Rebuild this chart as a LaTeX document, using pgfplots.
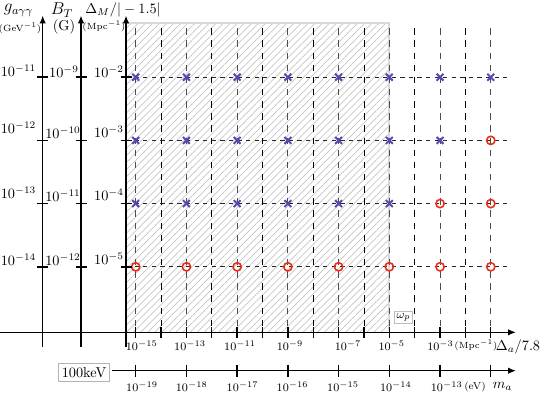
\documentclass[border=0pt]{standalone}
\usepackage{pgfplots}
\pgfplotsset{compat=1.18}
\usetikzlibrary{patterns.meta,arrows.meta}
\definecolor{xblue}{RGB}{85,75,175}
\definecolor{ored}{RGB}{235,45,25}
\newcommand{\unitsize}{\fontsize{6.3}{7}\selectfont}
\begin{document}
\begin{tikzpicture}
\useasboundingbox (0,0) rectangle (381.5pt,-276.5pt);
\begin{axis}[at={(0,0)}, anchor=north west, scale only axis,
    width=381.5pt, height=276.5pt, hide axis, clip=false,
    xmin=-20.351, xmax=1.139, ymin=-7.0285, ymax=-0.7785]
  % region below the plasma frequency
  \fill[pattern={Lines[angle=45,distance=3.5pt,line width=0.5pt]}, pattern color=gray!45]
    (axis cs:-15.383,-6.036) rectangle (axis cs:-5,-1.138);
  \draw[gray!30, line width=1.2pt] (axis cs:-15.383,-1.138) -- (axis cs:-5,-1.138) -- (axis cs:-5,-6.036);
  % grid
  \pgfplotsinvokeforeach{-15,-13,...,-1}{
    \draw[gray!60!black, line width=0.6pt, dash pattern=on 4.5pt off 4pt] (axis cs:#1,-1.226) -- (axis cs:#1,-6.036);}
  \pgfplotsinvokeforeach{-14,-12,...,-2}{
    \draw[black, line width=0.6pt, dash pattern=on 4.5pt off 4pt] (axis cs:#1,-1.226) -- (axis cs:#1,-6.036);}
  \pgfplotsinvokeforeach{-2,-3,-4,-5}{
    \draw[black!85, line width=0.6pt, dash pattern=on 3pt off 3pt] (axis cs:-15.383,#1) -- (axis cs:-0.174,#1);}
  % excluded / allowed points
  \addplot[only marks, mark=x, mark size=3.4pt, mark options={xblue, line width=1.4pt}] coordinates {
    (-15,-2) (-13,-2) (-11,-2) (-9,-2) (-7,-2) (-5,-2) (-3,-2) (-1,-2)
    (-15,-3) (-13,-3) (-11,-3) (-9,-3) (-7,-3) (-5,-3) (-3,-3)
    (-15,-4) (-13,-4) (-11,-4) (-9,-4) (-7,-4) (-5,-4)
  };
  \addplot[only marks, mark=o, mark size=2.9pt, mark options={ored, line width=1.1pt}] coordinates {
    (-1,-3)
    (-3,-4) (-1,-4)
    (-15,-5) (-13,-5) (-11,-5) (-9,-5) (-7,-5) (-5,-5) (-3,-5) (-1,-5)
  };
\end{axis}
\begin{scope}[x=0.7pt, y=-0.7pt, line width=1pt]
  \tikzset{ar/.style={-{Latex[length=5.5pt,width=4.5pt]}}}
  % axes
  \draw[ar] (0,332.3) -- (516,332.3);
  \foreach \x in {42.7,81,126} \draw[ar] (\x,347) -- (\x,15.5);
  \foreach \x in {42.7,81,126} \foreach \y in {77.2,140.4,203.6,266.8}
    \draw (\x-5.5,\y) -- (\x+5.5,\y);
  \foreach \k in {0,...,14} \draw ({135.7+25.36*\k},326.8) -- ({135.7+25.36*\k},337.8);
  \draw[ar] (111.7,370.7) -- (516,370.7);
  \foreach \k in {0,2,...,14} \draw ({135.7+25.36*\k},364.7) -- ({135.7+25.36*\k},376.7);
  % axis titles
  \node[inner sep=0] at (18.5,10.5) {\large$g_{a\gamma\gamma}$};
  \node[inner sep=0] at (20,28) {\unitsize(GeV$^{-1}$)};
  \node[inner sep=0] at (62,10) {\large$B_T$};
  \node[inner sep=0] at (64,27) {(G)};
  \node[inner sep=0] at (123,9.5) {$\Delta_M/|-1.5|$};
  \node[inner sep=0] at (104,26) {\unitsize(Mpc$^{-1}$)};
  % left tick labels
  \node[inner sep=0] at (18.5,70.5) {$10^{-11}$};
  \node[inner sep=0] at (18.5,128) {$10^{-12}$};
  \node[inner sep=0] at (18.5,193) {$10^{-13}$};
  \node[inner sep=0] at (18.5,260) {$10^{-14}$};
  \node[inner sep=0] at (64,71.5) {$10^{-9}$};
  \node[inner sep=0] at (63,132.5) {$10^{-10}$};
  \node[inner sep=0] at (63,196) {$10^{-11}$};
  \node[inner sep=0] at (63,260) {$10^{-12}$};
  \node[inner sep=0] at (109,72) {$10^{-2}$};
  \node[inner sep=0] at (109,132) {$10^{-3}$};
  \node[inner sep=0] at (109,195) {$10^{-4}$};
  \node[inner sep=0] at (109,259) {$10^{-5}$};
  % bottom tick labels
  \foreach \x/\t in {141.7/-15,190/-13,240/-11,290/-9,348/-7,391.7/-5,440.5/-3}
    \node[inner sep=0] at (\x,346) {\footnotesize$10^{\t}$};
  \node[inner sep=0] at (476,345.5) {\unitsize(Mpc$^{-1}$)};
  \node[inner sep=0] at (518,347) {$\Delta_a/7.8$};
  \foreach \x/\t in {142/-19,191.7/-18,242.5/-17,292.5/-16,343/-15,395.8/-14,446.7/-13}
    \node[inner sep=0] at (\x,387) {\footnotesize$10^{\t}$};
  \node[inner sep=0] at (475,386.5) {\scriptsize(eV)};
  \node[inner sep=0] at (502.5,386.5) {$m_a$};
  \node[draw=gray!60, line width=0.6pt, inner sep=2.5pt, fill=white] at (84,372.5) {100keV};
  \node[draw=gray!50, line width=0.8pt, inner sep=1.5pt, fill=white] at (403.5,317.5) {\footnotesize$\omega_p$};
\end{scope}
\end{tikzpicture}
\end{document}
